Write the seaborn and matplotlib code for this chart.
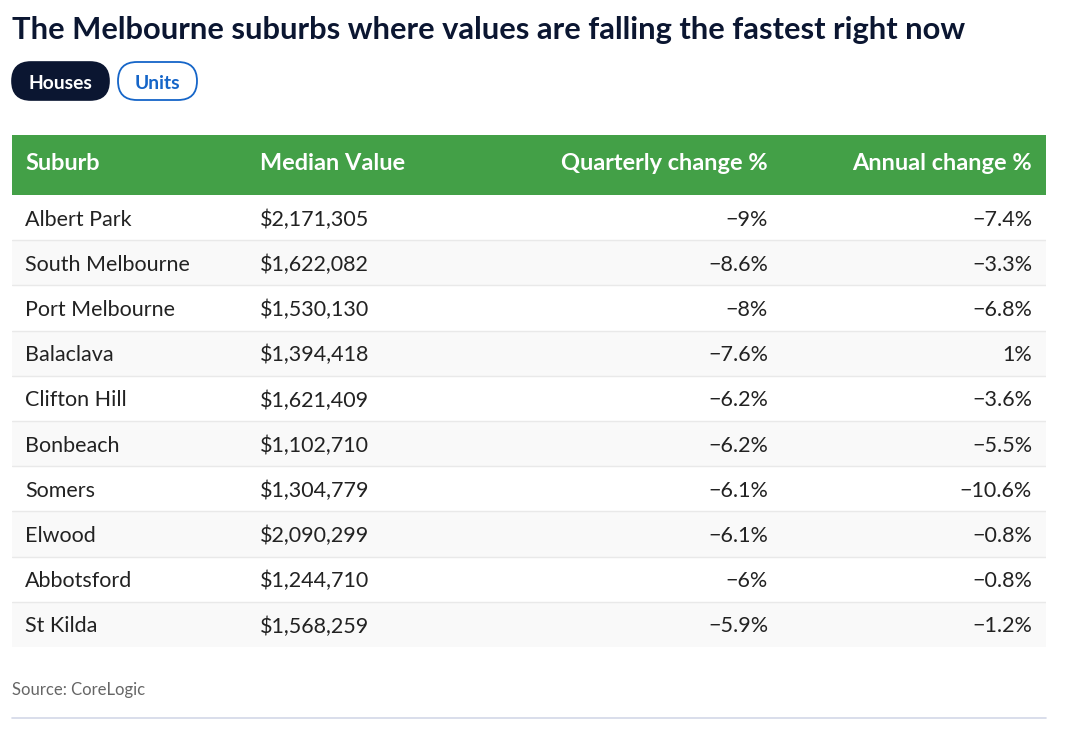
import matplotlib
matplotlib.use("Agg")
import matplotlib.pyplot as plt
from matplotlib.patches import FancyBboxPatch
from matplotlib.colors import ListedColormap
import numpy as np
import seaborn as sns

# ---------------- data ----------------
title = "The Melbourne suburbs where values are falling the fastest right now"
tabs = ["Houses", "Units"]
columns = ["Suburb", "Median Value", "Quarterly change %", "Annual change %"]
suburbs = ["Albert Park", "South Melbourne", "Port Melbourne", "Balaclava", "Clifton Hill",
           "Bonbeach", "Somers", "Elwood", "Abbotsford", "St Kilda"]
median_values = [2171305, 1622082, 1530130, 1394418, 1621409,
                 1102710, 1304779, 2090299, 1244710, 1568259]
quarterly_change = [-9, -8.6, -8, -7.6, -6.2, -6.2, -6.1, -6.1, -6, -5.9]
annual_change = [-7.4, -3.3, -6.8, 1, -3.6, -5.5, -10.6, -0.8, -0.8, -1.2]
source = "Source: CoreLogic"

# ---------------- style ----------------
sns.set_theme(style="white")
FONT = ["Lato", "DejaVu Sans"]
plt.rcParams["font.family"] = FONT

W, H = 1080, 739
fig = plt.figure(figsize=(W / 100, H / 100), dpi=100)
fig.patch.set_facecolor("white")

GREEN = "#43a047"
NAVY = "#0b1631"
BLUE = "#1565c8"
TEXT = "#222222"

def fmt_pct(v):
    return f"{v:g}%".replace("-", "\u2212")

def fmt_money(v):
    return f"${v:,}"

def px_axes(l, t, r, b):
    return fig.add_axes([l / W, 1 - b / H, (r - l) / W, (b - t) / H])

TL, TR = 12, 1046
HEAD_T, HEAD_B = 135, 195
BODY_B = 647
col_x = [(25 - TL) / (TR - TL), (260 - TL) / (TR - TL),
         (768 - TL) / (TR - TL), (1032 - TL) / (TR - TL)]
col_ha = ["left", "left", "right", "right"]

# ---------------- body (seaborn heatmap stripes) ----------------
ax_body = px_axes(TL, HEAD_B, TR, BODY_B)
n = len(suburbs)
stripes = np.array([[i % 2] for i in range(n)])
sns.heatmap(stripes, ax=ax_body, cmap=ListedColormap(["#ffffff", "#f9f9f9"]),
            cbar=False, xticklabels=False, yticklabels=False, linewidths=0,
            vmin=0, vmax=1)
for i in range(1, n):
    ax_body.axhline(i, color="#e9e9e9", lw=1)
ax_body.set_xlim(0, 1)
for s in ax_body.spines.values():
    s.set_visible(False)

body_texts = []
for i in range(n):
    row = [suburbs[i], fmt_money(median_values[i]),
           fmt_pct(quarterly_change[i]), fmt_pct(annual_change[i])]
    for j, val in enumerate(row):
        t = ax_body.text(col_x[j], i + 0.5, val, ha=col_ha[j], va="center_baseline",
                         fontsize=15, color=TEXT, parse_math=False)
        body_texts.append(t)

# ---------------- header ----------------
ax_head = px_axes(TL, HEAD_T, TR, HEAD_B)
ax_head.set_facecolor(GREEN)
ax_head.set_xlim(0, 1)
ax_head.set_ylim(0, 1)
ax_head.set_xticks([])
ax_head.set_yticks([])
for s in ax_head.spines.values():
    s.set_visible(False)
head_texts = []
for j, c in enumerate(columns):
    t = ax_head.text(col_x[j], 0.55, c, ha=col_ha[j], va="center_baseline",
                     fontsize=16, color="white", fontweight="bold")
    head_texts.append(t)

# ---------------- overlay (title, tabs, source) ----------------
ov = fig.add_axes([0, 0, 1, 1])
ov.set_xlim(0, W)
ov.set_ylim(H, 0)
ov.axis("off")

t_title = ov.text(12, 28, title, ha="left", va="center_baseline", fontsize=20,
                  fontweight="bold", color=NAVY)

pill1 = FancyBboxPatch((12, 62), 97, 38, boxstyle="round,pad=0,rounding_size=19",
                       fc=NAVY, ec=NAVY, lw=1.2)
pill2 = FancyBboxPatch((118, 62), 79, 38, boxstyle="round,pad=0,rounding_size=19",
                       fc="white", ec=BLUE, lw=1.3)
ov.add_patch(pill1)
ov.add_patch(pill2)
t_h = ov.text(60.5, 82, tabs[0], ha="center", va="center_baseline", fontsize=14,
              fontweight="bold", color="white")
t_u = ov.text(157.5, 82, tabs[1], ha="center", va="center_baseline", fontsize=14,
              fontweight="bold", color=BLUE)

t_src = ov.text(12, 689, source, ha="left", va="center_baseline", fontsize=12,
                color="#666666")
ov.plot([12, 1046], [718, 718], color="#d3d8e8", lw=1.2)

# ---------------- fit font sizes to reference widths ----------------
fig.canvas.draw()
r = fig.canvas.get_renderer()

def scale_group(ref, target, group):
    w = ref.get_window_extent(r).width
    k = target / w
    for t in group:
        t.set_fontsize(t.get_fontsize() * k)

scale_group(t_title, 951, [t_title])
scale_group(body_texts[4], 165, body_texts)
scale_group(head_texts[2], 207, head_texts)
scale_group(t_h, 64, [t_h, t_u])
scale_group(t_src, 133, [t_src])

fig.savefig("out.png", dpi=100, facecolor="white")
